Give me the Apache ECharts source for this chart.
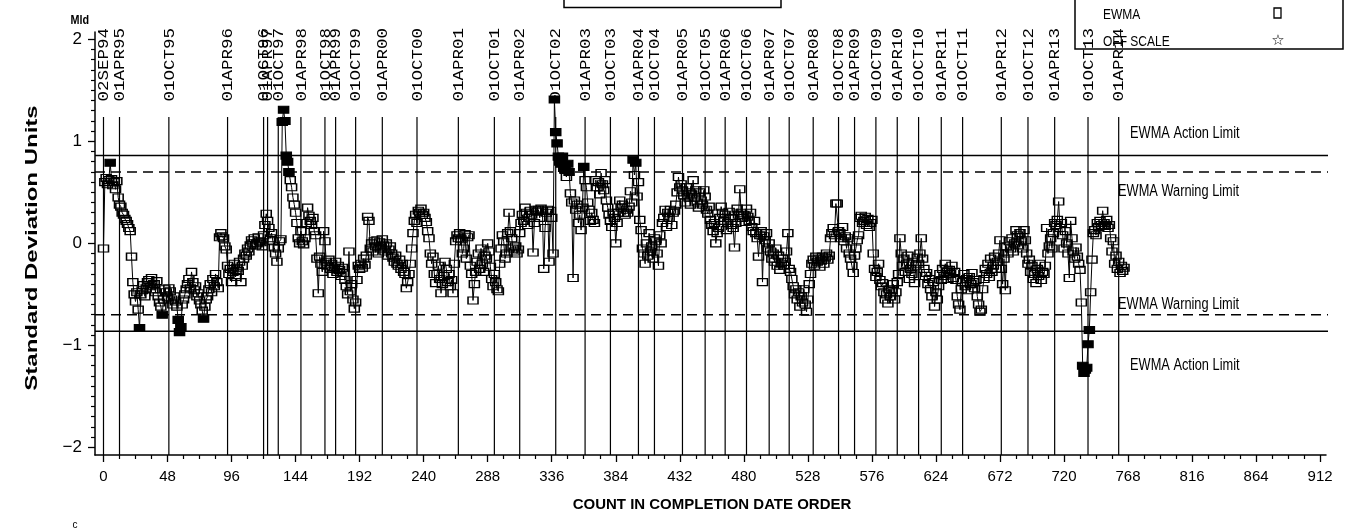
<!DOCTYPE html>
<html>
<head>
<meta charset="utf-8">
<script src="https://cdn.jsdelivr.net/npm/echarts@6/dist/echarts.min.js"></script>
<style>
html,body{margin:0;padding:0;background:#fff}
#chart{width:1348px;height:531px}
</style>
</head>
<body>
<div id="chart"></div>
<script>
// EWMA values in completion-date order (index = count)
const ewma = [
  -0.05, 0.60, 0.64, 0.58, 0.62, 0.79, 0.63, 0.57, 0.60, 0.53,
  0.61, 0.45, 0.38, 0.36, 0.30, 0.28, 0.24, 0.22, 0.19, 0.15,
  0.12, -0.13, -0.38, -0.50, -0.57, -0.48, -0.65, -0.83, -0.50, -0.46,
  -0.41, -0.52, -0.44, -0.38, -0.36, -0.42, -0.34, -0.45, -0.40, -0.48,
  -0.37, -0.52, -0.58, -0.62, -0.70, -0.55, -0.45, -0.48, -0.53, -0.44,
  -0.47, -0.55, -0.60, -0.52, -0.57, -0.62, -0.75, -0.87, -0.82, -0.60,
  -0.55, -0.50, -0.45, -0.40, -0.35, -0.44, -0.28, -0.38, -0.46, -0.42,
  -0.52, -0.49, -0.56, -0.60, -0.66, -0.74, -0.62, -0.55, -0.52, -0.45,
  -0.40, -0.48, -0.35, -0.42, -0.30, -0.38, -0.44, 0.06, 0.10, 0.07,
  0.05, -0.03, -0.06, -0.22, -0.30, -0.25, -0.38, -0.28, -0.20, -0.33,
  -0.24, -0.27, -0.18, -0.38, -0.22, -0.15, -0.10, -0.12, -0.05, -0.08,
  -0.02, 0.03, 0.00, 0.05, -0.02, 0.00, 0.06, 0.02, 0.01, -0.03,
  0.08, 0.18, 0.29, 0.22, 0.15, 0.05, 0.10, 0.02, -0.04, -0.10,
  -0.18, -0.05, 0.02, 0.04, 1.19, 1.31, 1.20, 0.86, 0.80, 0.70,
  0.62, 0.55, 0.45, 0.38, 0.30, 0.20, 0.05, 0.00, 0.12, 0.02,
  -0.01, 0.05, 0.20, 0.35, 0.27, 0.22, 0.18, 0.25, 0.12, 0.08,
  -0.15, -0.49, -0.13, -0.20, -0.28, 0.12, 0.02, -0.18, -0.22, -0.16,
  -0.25, -0.20, -0.30, -0.24, -0.18, -0.28, -0.22, -0.26, -0.32, -0.24,
  -0.29, -0.36, -0.42, -0.50, -0.08, -0.47, -0.40, -0.55, -0.64, -0.58,
  -0.36, -0.22, -0.25, -0.20, -0.24, -0.15, -0.21, -0.12, 0.26, 0.22,
  -0.05, 0.00, -0.08, 0.02, -0.03, 0.03, -0.10, 0.01, -0.05, 0.04,
  -0.02, -0.08, 0.00, -0.12, -0.06, -0.03, -0.10, -0.14, -0.18, -0.12,
  -0.20, -0.22, -0.16, -0.25, -0.20, -0.28, -0.30, -0.44, -0.38, -0.30,
  -0.20, -0.05, 0.10, 0.22, 0.28, 0.20, 0.32, 0.30, 0.34, 0.28,
  0.30, 0.25, 0.21, 0.12, 0.05, -0.10, -0.20, -0.13, -0.30, -0.39,
  -0.30, -0.22, -0.35, -0.49, -0.40, -0.32, -0.18, -0.25, -0.38, -0.30,
  -0.42, -0.36, -0.49, -0.20, 0.02, 0.08, 0.05, 0.10, 0.04, -0.10,
  -0.05, 0.09, -0.15, 0.06, 0.08, -0.22, -0.30, -0.56, -0.40, -0.28,
  -0.18, -0.10, -0.25, -0.05, -0.20, -0.28, -0.12, -0.15, 0.00, -0.08,
  -0.23, -0.35, -0.42, -0.30, -0.38, -0.45, -0.47, -0.20, -0.05, 0.08,
  0.02, -0.15, -0.10, 0.10, 0.30, 0.12, 0.05, -0.05, -0.08, -0.03,
  -0.10, -0.06, 0.10, 0.20, 0.28, 0.22, 0.35, 0.30, 0.18, 0.25,
  0.32, 0.28, -0.09, 0.20, 0.33, 0.31, 0.33, 0.25, 0.34, 0.32,
  -0.25, 0.15, 0.30, 0.33, -0.18, 0.32, 0.25, -0.10, 1.41, 1.09,
  0.98, 0.85, 0.80, 0.78, 0.85, 0.74, 0.72, 0.65, 0.78, 0.70,
  0.49, 0.40, -0.34, 0.42, 0.33, 0.38, 0.20, 0.28, 0.13, 0.35,
  0.75, 0.62, 0.55, 0.40, 0.33, 0.22, 0.30, 0.23, 0.20, 0.62,
  0.55, 0.60, 0.48, 0.69, 0.58, 0.52, 0.62, 0.42, 0.35, 0.28,
  0.22, 0.16, 0.30, 0.25, 0.00, 0.20, 0.30, 0.42, 0.35, 0.38,
  0.30, 0.28, 0.33, 0.30, 0.36, 0.51, 0.40, 0.82, 0.67, 0.79,
  0.46, 0.60, 0.23, 0.13, -0.05, -0.10, -0.20, 0.00, -0.12, 0.10,
  -0.08, -0.03, -0.15, 0.05, 0.02, -0.10, -0.22, 0.08, 0.00, 0.20,
  0.25, 0.33, 0.16, 0.30, 0.25, 0.33, 0.18, 0.30, 0.32, 0.38,
  0.50, 0.65, 0.55, 0.58, 0.52, 0.47, 0.40, 0.55, 0.45, 0.50,
  0.38, 0.48, 0.62, 0.45, 0.52, 0.40, 0.35, 0.50, 0.42, 0.38,
  0.52, 0.46, 0.33, 0.29, 0.36, 0.23, 0.18, 0.12, 0.20, 0.00,
  0.10, 0.15, 0.25, 0.36, 0.30, 0.22, 0.28, 0.13, 0.20, 0.31,
  0.25, 0.18, 0.15, -0.04, 0.20, 0.34, 0.28, 0.53, 0.30, 0.25,
  0.28, 0.21, 0.34, 0.26, 0.22, 0.30, 0.16, 0.12, 0.22, 0.10,
  0.05, -0.13, 0.08, 0.12, -0.38, 0.07, 0.03, 0.10, -0.05, 0.00,
  -0.08, -0.15, -0.10, -0.18, -0.05, -0.22, -0.12, -0.26, -0.20, -0.15,
  -0.22, -0.18, -0.08, 0.10, -0.25, -0.28, -0.35, -0.42, -0.50, -0.45,
  -0.55, -0.48, -0.62, -0.52, -0.58, -0.45, -0.60, -0.67, -0.55, -0.40,
  -0.30, -0.20, -0.16, -0.22, -0.13, -0.18, -0.15, -0.23, -0.17, -0.13,
  -0.20, -0.14, -0.10, -0.16, -0.12, 0.05, 0.10, 0.15, 0.08, 0.39,
  0.39, 0.12, 0.10, 0.05, 0.16, 0.02, 0.07, -0.05, 0.05, -0.10,
  -0.15, -0.22, -0.29, -0.12, -0.05, 0.03, 0.08, 0.25, 0.27, 0.20,
  0.22, 0.26, 0.18, 0.24, 0.16, 0.20, 0.23, -0.10, -0.25, -0.33,
  -0.28, -0.20, -0.36, -0.42, -0.39, -0.48, -0.55, -0.50, -0.59, -0.45,
  -0.52, -0.46, -0.40, -0.55, -0.48, -0.38, -0.30, 0.05, -0.10, -0.22,
  -0.15, -0.28, -0.20, -0.12, -0.35, -0.25, -0.30, -0.18, -0.39, -0.22,
  -0.14, -0.20, -0.10, 0.05, -0.15, -0.25, -0.32, -0.29, -0.40, -0.35,
  -0.45, -0.52, -0.38, -0.62, -0.48, -0.55, -0.42, -0.30, -0.36, -0.25,
  -0.32, -0.20, -0.28, -0.35, -0.26, -0.30, -0.22, -0.34, -0.28, -0.36,
  -0.52, -0.60, -0.65, -0.45, -0.38, -0.30, -0.42, -0.35, -0.46, -0.33,
  -0.40, -0.29, -0.38, -0.44, -0.36, -0.52, -0.60, -0.67, -0.65, -0.45,
  -0.35, -0.25, -0.30, -0.20, -0.33, -0.15, -0.28, -0.22, -0.13, -0.25,
  -0.18, -0.10, 0.03, -0.25, -0.40, -0.15, -0.46, -0.03, -0.10, 0.02,
  -0.05, 0.05, -0.08, 0.00, 0.13, 0.08, -0.02, 0.10, 0.02, -0.05,
  0.13, 0.03, -0.10, -0.20, -0.16, -0.28, -0.22, -0.35, -0.30, -0.39,
  -0.25, -0.32, -0.20, -0.36, -0.28, -0.30, -0.22, 0.15, -0.10, -0.03,
  0.05, -0.05, 0.10, 0.20, 0.18, 0.23, 0.41, 0.15, 0.20, 0.08,
  -0.05, 0.12, 0.00, -0.10, -0.34, 0.22, 0.05, -0.08, -0.15, -0.04,
  -0.13, -0.20, -0.26, -0.58, -1.20, -1.27, -1.24, -1.22, -0.99, -0.85,
  -0.48, -0.16, 0.10, 0.13, 0.08, 0.20, 0.16, 0.22, 0.18, 0.32,
  0.20, 0.17, 0.23, 0.15, 0.18, 0.05, -0.08, 0.02, -0.20, -0.12,
  -0.25, -0.18, -0.29, -0.22, -0.27, -0.24
];

// Reference dates and the count at which each one falls
const dateLabels = ['02SEP94','01APR95','01OCT95','01APR96','01OCT96','01APR97','01OCT97','01APR98','01OCT98','01APR99',
  '01OCT99','01APR00','01OCT00','01APR01','01OCT01','01APR02','01OCT02','01APR03','01OCT03','01APR04',
  '01OCT04','01APR05','01OCT05','01APR06','01OCT06','01APR07','01OCT07','01APR08','01OCT08','01APR09',
  '01OCT09','01APR10','01OCT10','01APR11','01OCT11','01APR12','01OCT12','01APR13','01OCT13','01APR14'];
const dateCounts = [0, 12, 49, 93, 120, 123, 131, 148, 166, 174,
  189, 209, 235, 266, 293, 312, 339, 361, 380, 401,
  413, 434, 451, 466, 482, 499, 514, 532, 551, 563,
  579, 595, 611, 628, 644, 673, 693, 713, 738, 761];

// Control limits (standard deviation units)
const limitNames = ['EWMA Action Limit', 'EWMA Warning Limit', 'EWMA Warning Limit', 'EWMA Action Limit'];
const limitValues = [0.862, 0.70, -0.70, -0.862];
const warningLimit = 0.70;

// Axis tick labels
const xTickValues = [0, 48, 96, 144, 192, 240, 288, 336, 384, 432, 480, 528, 576, 624, 672, 720, 768, 816, 864, 912];
const yTickValues = [-2, -1, 0, 1, 2];

// ---- layout / style ----
const SANS = '"Liberation Sans Narrow", "Liberation Sans", Arial, sans-serif';
const MONO = '"Liberation Mono", "DejaVu Sans Mono", monospace';
const NARROW_SCALE = 0.8;      // condensed look for the caption texts
const X_MIN = -6.37, X_MAX = 916.4;
const Y_MIN = -2.075, Y_MAX = 2.072;
const DATE_LINE_TOP = 1.238;   // value where date rules begin
const DATE_LABEL_BASE = 1.39;  // value where date text starts
const limitLabelLayout = [
  { at: 769.5, dy: -22, dashed: false },
  { at: 760.5, dy: 20, dashed: true },
  { at: 760.5, dy: -10, dashed: true },
  { at: 769.5, dy: 34, dashed: false }
];

const xMinor = [];
for (let v = 12; v < 912; v += 12) if (v % 48) xMinor.push(v);
const yMinor = [];
for (let k = -20; k <= 20; k++) if (k % 10) yMinor.push(k / 10);

const fmtNum = v => (v < 0 ? '\u2212' + (-v) : String(v));

const pointData = ewma.map((v, i) =>
  Math.abs(v) >= warningLimit
    ? { value: [i, v], itemStyle: { color: '#000' } }
    : [i, v]);

function caption(text, x, y, opts) {
  const o = opts || {};
  return {
    type: 'text', silent: true, x: x, y: y,
    rotation: o.rotation || 0, scaleX: o.scaleX || 1,
    style: {
      text: text, font: o.font || ('15px ' + SANS), fill: '#000',
      align: o.align || 'left', verticalAlign: 'middle',
      textAlign: o.align || 'left', textVerticalAlign: 'middle'
    }
  };
}

const chart = echarts.init(document.getElementById('chart'), null, { renderer: 'canvas' });

chart.setOption({
  animation: false,
  backgroundColor: '#fff',
  grid: { left: 95, right: 22, top: 32, bottom: 76, containLabel: false, outerBoundsMode: 'none' },
  xAxis: [
    {
      type: 'value', min: X_MIN, max: X_MAX, position: 'bottom',
      axisLine: { show: true, onZero: false, lineStyle: { color: '#000', width: 1.5 } },
      axisTick: { show: true, customValues: xTickValues, length: 7, lineStyle: { color: '#000', width: 1.3 } },
      axisLabel: { customValues: xTickValues, margin: 14, color: '#000', fontSize: 15, fontFamily: SANS },
      splitLine: { show: false }
    },
    {
      type: 'value', min: X_MIN, max: X_MAX, position: 'bottom',
      axisLine: { show: false, onZero: false },
      axisTick: { show: true, customValues: xMinor, length: 4, lineStyle: { color: '#000', width: 1.2 } },
      axisLabel: { show: false },
      splitLine: { show: false }
    }
  ],
  yAxis: [
    {
      type: 'value', min: Y_MIN, max: Y_MAX, position: 'left',
      axisLine: { show: true, onZero: false, lineStyle: { color: '#000', width: 1.5 } },
      axisTick: { show: true, customValues: yTickValues, length: 7, lineStyle: { color: '#000', width: 1.3 } },
      axisLabel: { customValues: yTickValues, margin: 13, color: '#000', fontSize: 17, fontFamily: SANS, formatter: fmtNum },
      splitLine: { show: false }
    },
    {
      type: 'value', min: Y_MIN, max: Y_MAX, position: 'left',
      axisLine: { show: false, onZero: false },
      axisTick: { show: true, customValues: yMinor, length: 4, lineStyle: { color: '#000', width: 1.2 } },
      axisLabel: { show: false },
      splitLine: { show: false }
    }
  ],
  series: [
    {
      // control limit rules with their captions
      type: 'custom', name: 'limits', xAxisIndex: 0, yAxisIndex: 0, silent: true, z: 2,
      data: limitValues.map(v => [0, v]),
      renderItem: (params, api) => {
        const i = params.dataIndex;
        const cs = params.coordSys;
        const lay = limitLabelLayout[i];
        const y = api.coord([0, api.value(1)])[1];
        const lx = api.coord([lay.at, 0])[0];
        return {
          type: 'group',
          children: [
            { type: 'line', shape: { x1: cs.x, y1: y, x2: cs.x + cs.width + 2, y2: y },
              style: { stroke: '#000', lineWidth: 1.5, lineDash: lay.dashed ? [10, 6] : null } },
            { type: 'text', x: lx, y: y + lay.dy, scaleX: NARROW_SCALE,
              style: { text: limitNames[i], font: '16px ' + SANS, fill: '#000', align: 'left', verticalAlign: 'middle' } }
          ]
        };
      }
    },
    {
      // vertical date rules with rotated date text
      type: 'custom', name: 'dates', xAxisIndex: 0, yAxisIndex: 0, silent: true, z: 3, clip: false,
      data: dateCounts.map(c => [c, 0]),
      renderItem: (params, api) => {
        const cs = params.coordSys;
        const x = api.coord([api.value(0), 0])[0];
        const top = api.coord([0, DATE_LINE_TOP])[1];
        const base = api.coord([0, DATE_LABEL_BASE])[1];
        return {
          type: 'group',
          children: [
            { type: 'line', shape: { x1: x, y1: top, x2: x, y2: cs.y + cs.height },
              style: { stroke: '#000', lineWidth: 1.2 } },
            { type: 'text', x: x + 1, y: base, rotation: Math.PI / 2, scaleX: 1.25,
              style: { text: dateLabels[params.dataIndex], font: '14px ' + MONO, fill: '#000', align: 'left', verticalAlign: 'middle' } }
          ]
        };
      }
    },
    {
      type: 'line', name: 'EWMA', xAxisIndex: 0, yAxisIndex: 0, z: 5, silent: true,
      data: pointData,
      symbol: 'rect', symbolSize: [10, 7], showAllSymbol: true,
      lineStyle: { color: '#000', width: 1 },
      itemStyle: { color: 'rgba(0,0,0,0)', borderColor: '#000', borderWidth: 1.3 },
      emphasis: { disabled: true }
    }
  ],
  graphic: [
    { type: 'rect', silent: true, shape: { x: 564, y: -2, width: 217, height: 9.5 },
      style: { fill: 'none', stroke: '#000', lineWidth: 1.5 } },
    { type: 'rect', silent: true, shape: { x: 1075, y: -2, width: 268, height: 51 },
      style: { fill: 'none', stroke: '#000', lineWidth: 1.5 } },
    caption('EWMA', 1103, 15, { scaleX: NARROW_SCALE }),
    { type: 'rect', silent: true, shape: { x: 1274, y: 8, width: 7, height: 10 },
      style: { fill: 'none', stroke: '#000', lineWidth: 1.3 } },
    caption('OFF SCALE', 1103, 42, { scaleX: NARROW_SCALE }),
    caption('\u2606', 1278, 41, { font: 'bold 15px "DejaVu Sans", sans-serif', align: 'center' }),
    caption('Mld', 89, 21, { font: 'bold 12px ' + SANS, align: 'right', scaleX: 0.9 }),
    caption('Standard Deviation Units', 33, 248, { font: 'bold 16px ' + SANS, align: 'center', rotation: Math.PI / 2, scaleX: 1.5 }),
    caption('COUNT IN COMPLETION DATE ORDER', 712, 505, { font: 'bold 14px ' + SANS, align: 'center', scaleX: 1.07 }),
    caption('c', 75, 525, { font: '10px ' + SANS, align: 'center' })
  ]
});
</script>
</body>
</html>
